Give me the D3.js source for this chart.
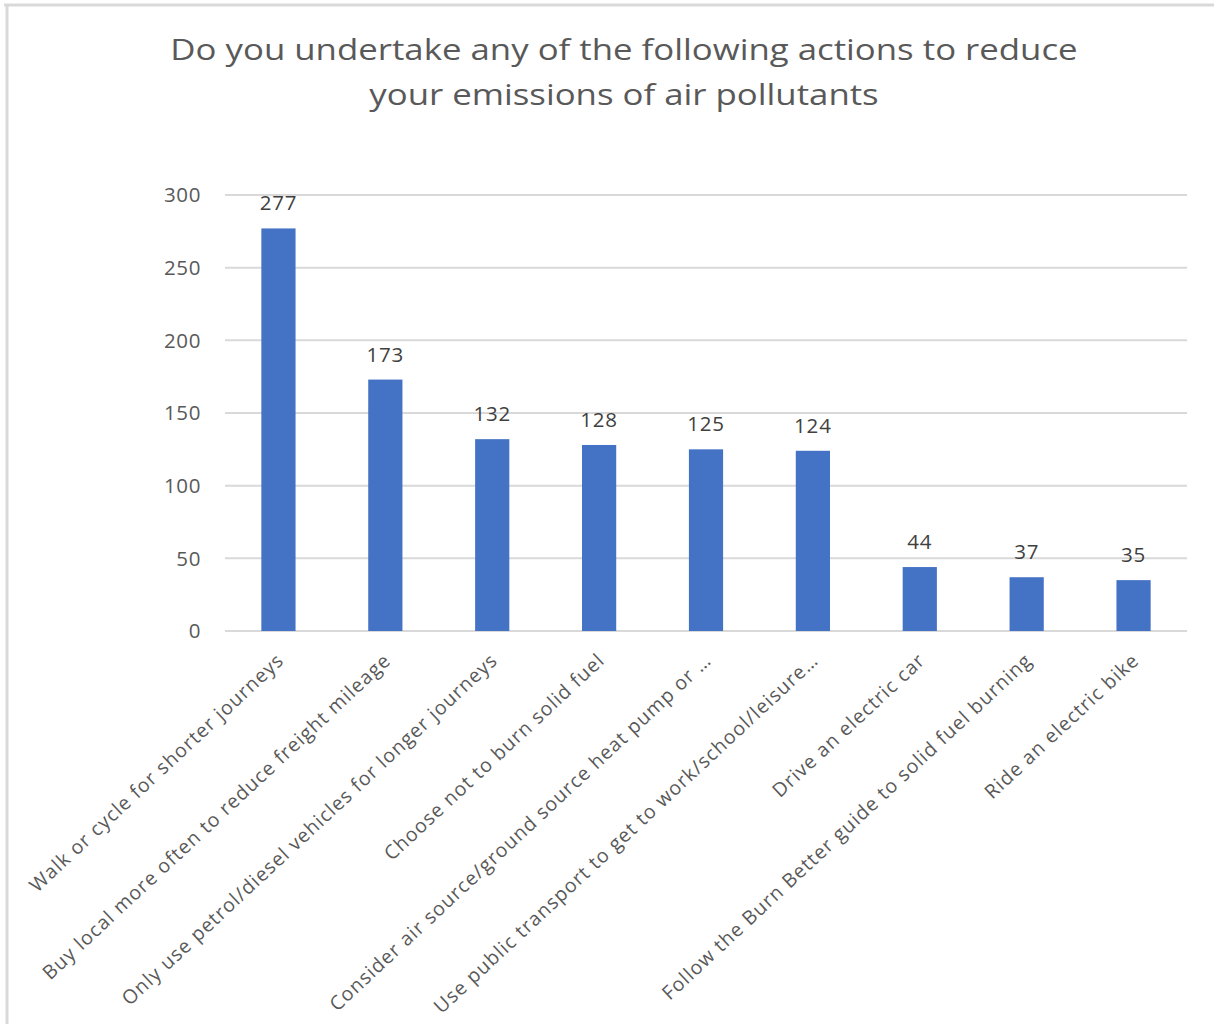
<!DOCTYPE html>
<html><head><meta charset="utf-8">
<script src="https://cdn.jsdelivr.net/npm/d3@7"></script>
<style>html,body{margin:0;padding:0;background:#fff;}</style>
</head><body>
<svg id="chart" width="1214" height="1024"></svg>
<script>
const titleLines = ["Do you undertake any of the following actions to reduce", "your emissions of air pollutants"];
const categories = [
  "Walk or cycle for shorter journeys",
  "Buy local more often to reduce freight mileage",
  "Only use petrol/diesel vehicles for longer journeys",
  "Choose not to burn solid fuel",
  "Consider air source/ground source heat pump or …",
  "Use public transport to get to work/school/leisure…",
  "Drive an electric car",
  "Follow the Burn Better guide to solid fuel burning",
  "Ride an electric bike"
];
const values = [277, 173, 132, 128, 125, 124, 44, 37, 35];
const yTicks = [0, 50, 100, 150, 200, 250, 300];

(function(){
const svg = d3.select("#chart");
const font = "'Open Sans', sans-serif";
const grey = "#d9d9d9";

// outer frame
svg.append("line").attr("x1",4).attr("x2",1214).attr("y1",5).attr("y2",5).attr("stroke",grey).attr("stroke-width",3);
svg.append("line").attr("x1",7).attr("x2",7).attr("y1",5).attr("y2",1024).attr("stroke",grey).attr("stroke-width",3);

const pL = 225, pR = 1187, pT = 195, pB = 631;
const x = d3.scaleBand().domain(categories).range([pL, pR]).paddingInner(0.68).paddingOuter(0.34);
const y = d3.scaleLinear().domain([0, 300]).range([pB, pT]);

// title (slightly widened glyphs to match the reference)
svg.append("g").attr("transform","translate(624,0) scale(1.2,1)")
  .selectAll("text").data(titleLines).join("text")
  .attr("x", 0).attr("y", (d,i) => 60 + i*45)
  .attr("text-anchor","middle").attr("font-family",font).attr("font-size",29)
  .attr("fill","#595959").text(d => d);

// gridlines
svg.append("g").selectAll("line").data(yTicks).join("line")
  .attr("x1", pL).attr("x2", pR)
  .attr("y1", d => y(d)).attr("y2", d => y(d))
  .attr("stroke", grey).attr("stroke-width", 2);

// y axis labels
svg.append("g").selectAll("text").data(yTicks).join("text")
  .attr("x", 201).attr("y", d => y(d)).attr("dy","0.35em")
  .attr("text-anchor","end").attr("font-family",font).attr("font-size",20.5)
  .attr("letter-spacing", 0.6)
  .attr("fill","#595959").text(d => d);

// bars
svg.append("g").selectAll("rect").data(values).join("rect")
  .attr("x", (d,i) => x(categories[i])).attr("width", x.bandwidth())
  .attr("y", d => y(d)).attr("height", d => y(0) - y(d))
  .attr("fill", "#4472C4");

// data labels
svg.append("g").selectAll("text").data(values).join("text")
  .attr("x", (d,i) => x(categories[i]) + x.bandwidth()/2)
  .attr("y", d => y(d) - 18)
  .attr("text-anchor","middle").attr("font-family",font).attr("font-size",20.5)
  .attr("letter-spacing", 0.8)
  .attr("fill","#404040").text(d => d);

// category labels
svg.append("g").selectAll("text").data(categories).join("text")
  .attr("transform", d => `translate(${x(d) + x.bandwidth()/2 + 2},${pB + 26}) rotate(-43)`)
  .attr("text-anchor","end").attr("font-family",font).attr("font-size",19.5)
  .attr("letter-spacing", 1.0)
  .attr("fill","#595959").attr("dy","0.35em").text(d => d);
})();
</script>
</body></html>
